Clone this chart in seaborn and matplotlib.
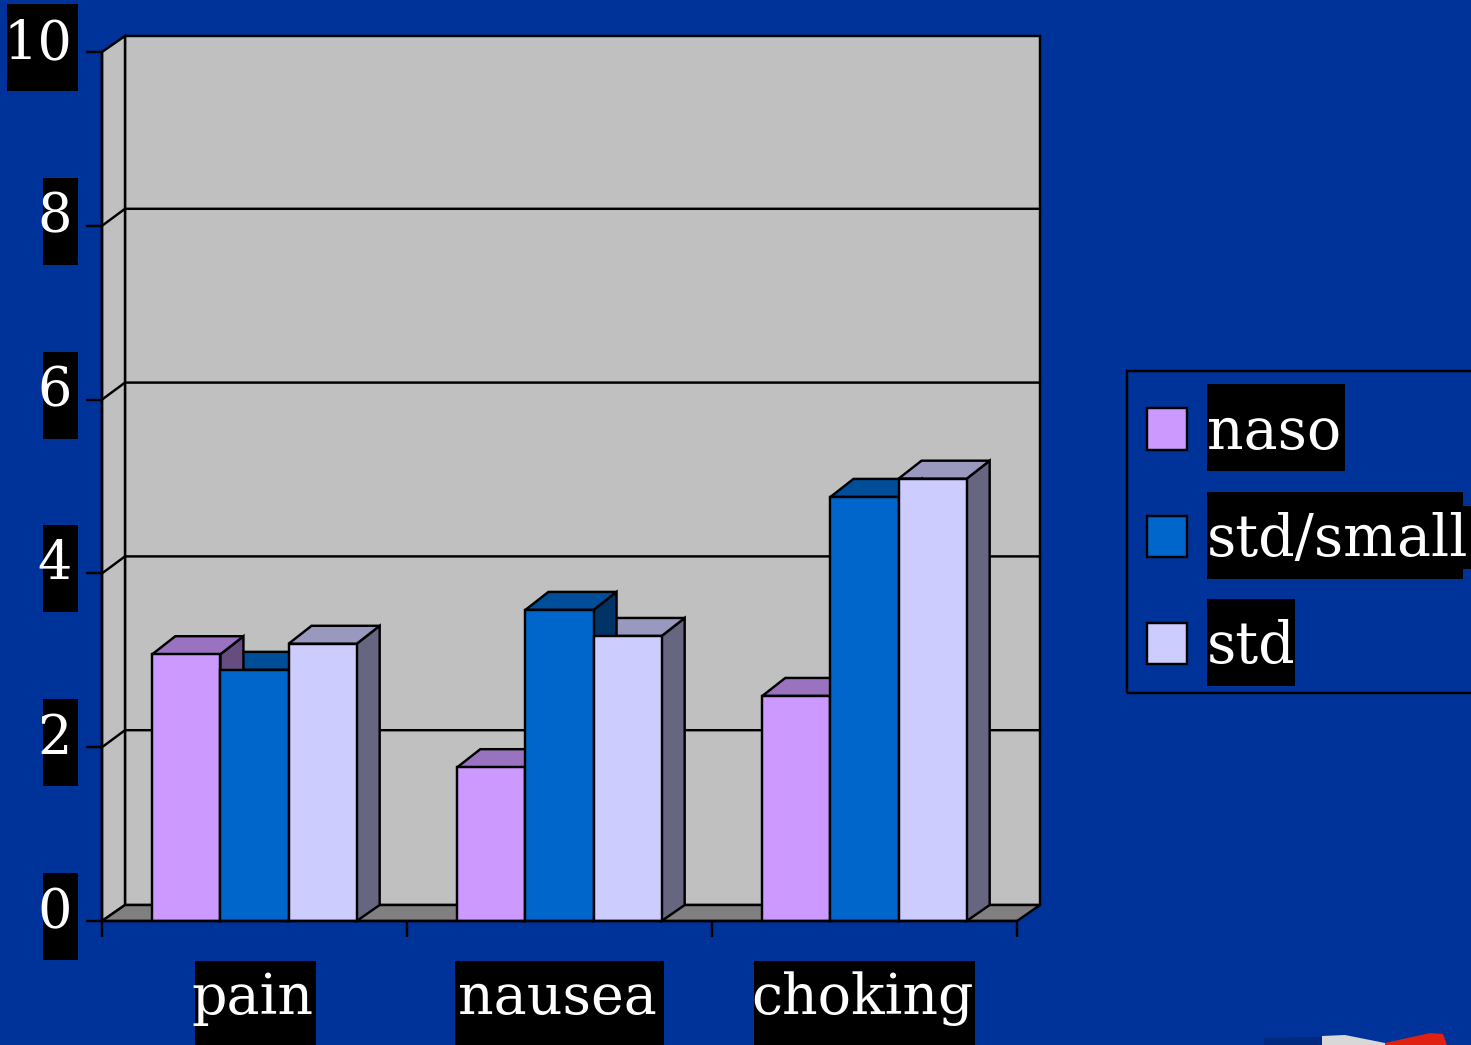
import matplotlib
matplotlib.use("Agg")
import matplotlib.pyplot as plt
import pandas as pd
import seaborn as sns
from matplotlib.patches import Polygon, Rectangle
from matplotlib.transforms import IdentityTransform, ScaledTranslation

categories = ["pain", "nausea", "choking"]
series_names = ["naso", "std/small", "std"]
naso = [3.07, 1.77, 2.59]
std_small = [2.89, 3.58, 4.88]
std = [3.19, 3.28, 5.09]
y_ticks = [0, 2, 4, 6, 8, 10]
colors = ["#CC99FF", "#0066CC", "#CCCCFF"]
BG, WALL, FLOOR = "#003399", "#C0C0C0", "#808080"
W, H, DPI = 1471, 1045, 100
DX, DY, BAR_DY = 23, 16, 18
LW = 1.75
FONT = 41

df = pd.DataFrame({
    "category": categories * 3,
    "series": [s for s in series_names for _ in categories],
    "value": naso + std_small + std,
})

sns.set_theme(style="ticks")
plt.rcParams["font.family"] = ["DejaVu Serif"]

fig = plt.figure(figsize=(W / DPI, H / DPI), dpi=DPI, facecolor=BG)
ax = fig.add_axes([102 / W, (H - 921) / H, 915 / W, 869 / H], facecolor="none")
sns.barplot(data=df, x="category", y="value", hue="series", hue_order=series_names,
            order=categories, palette=colors, width=0.67, gap=0, saturation=1,
            edgecolor="black", linewidth=LW, legend=False, ax=ax)
ax.set_xlim(-0.5, 2.5)
ax.set_ylim(0, 10)
ax.set_xlabel("")
ax.set_ylabel("")
sns.despine(ax=ax)
for side in ("left", "bottom"):
    ax.spines[side].set_linewidth(LW)
    ax.spines[side].set_color("black")
    ax.spines[side].set_zorder(6)

ident = IdentityTransform()
def to_px(x, y):
    return tuple(ax.transData.transform((x, y)))

def poly(pts, face, z):
    ax.add_patch(Polygon(pts, closed=True, facecolor=face, edgecolor="black", linewidth=LW,
                         transform=ident, clip_on=False, zorder=z, joinstyle="miter"))

def shade(c, f):
    r, g, b = matplotlib.colors.to_rgb(c)
    return (r * f, g * f, b * f)

# back wall, side wall, floor
x0, y0 = to_px(-0.5, 0)
x1, y1 = to_px(2.5, 10)
poly([(x0 + DX, y0 + DY), (x1 + DX, y0 + DY), (x1 + DX, y1 + DY), (x0 + DX, y1 + DY)], WALL, 0.5)
poly([(x0, y0), (x0 + DX, y0 + DY), (x0 + DX, y1 + DY), (x0, y1)], WALL, 0.6)
poly([(x0, y0), (x1, y0), (x1 + DX, y0 + DY), (x0 + DX, y0 + DY)], FLOOR, 0.7)
for v in y_ticks[1:-1]:
    _, yy = to_px(0, v)
    ax.plot([x0, x0 + DX, x1 + DX], [yy, yy + DY + 1, yy + DY + 1], color="black", lw=LW,
            transform=ident, clip_on=False, zorder=0.8)

# extruded top and side of every bar, right to left, then fronts on top
for container, col in zip(reversed(ax.containers), reversed(colors)):
    for bar in container:
        bx0, by0 = to_px(bar.get_x(), 0)
        bx1, by1 = to_px(bar.get_x() + bar.get_width(), bar.get_height())
        poly([(bx1, by0), (bx1 + DX, by0 + DY), (bx1 + DX, by1 + BAR_DY), (bx1, by1)], shade(col, 0.5), 3)
        poly([(bx0, by1), (bx1, by1), (bx1 + DX, by1 + BAR_DY), (bx0 + DX, by1 + BAR_DY)], shade(col, 0.75), 3)
        bar.set_zorder(4)

# ticks and labels
ax.set_xticks([-0.5, 0.5, 1.5, 2.5], labels=[])
ax.set_xticks([0, 1, 2], labels=categories, minor=True)
ax.set_yticks(y_ticks, labels=[str(v) for v in y_ticks])
ax.tick_params(axis="x", which="major", length=11.5, width=LW, color="black", direction="out")
ax.tick_params(axis="x", which="minor", length=0, pad=0, labelsize=40, labelcolor="white")
ax.tick_params(axis="y", which="major", length=11.5, width=LW, color="black", pad=0,
               labelsize=39, labelcolor="white")
for tick in ax.xaxis.get_minor_ticks():
    lab = tick.label1
    lab.set_va("baseline")
    lab.set_transform(lab.get_transform() + ScaledTranslation(-2.5 / DPI, -93 / DPI, fig.dpi_scale_trans))
for tick in ax.yaxis.get_major_ticks():
    lab = tick.label1
    lab.set_va("baseline")
    lab.set_ha("right")
    lab.set_transform(lab.get_transform() + ScaledTranslation(-14 / DPI, -7 / DPI, fig.dpi_scale_trans))

# legend
handles = [Rectangle((0, 0), 1, 1, facecolor=c, edgecolor="black", linewidth=LW) for c in colors]
fs_px = FONT * DPI / 72
leg = ax.legend(handles, series_names, loc="upper left",
                bbox_to_anchor=(1147, H - 405), bbox_transform=ident,
                frameon=False, fontsize=FONT, labelcolor="white", borderpad=0, borderaxespad=0,
                handlelength=40 / fs_px, handleheight=42 / fs_px, handletextpad=20 / fs_px,
                labelspacing=0.90)
leg.set_zorder(7)

def plate(x_a, x_b, y_top, y_bot):
    fig.add_artist(Rectangle((x_a, H - y_bot), x_b - x_a, y_bot - y_top, facecolor="black",
                             edgecolor="none", transform=ident, zorder=-1))

for xa, xb in [(195, 316), (455, 664), (754, 975)]:
    plate(xa, xb, 961, 1048)
for v in y_ticks:
    _, ty = to_px(0, v)
    base = H - ty + 7
    plate(78 - 35.5 * len(str(v)), 78, base - 55, base + 32)

fig.add_artist(Rectangle((1127, H - 693), 400, 322, facecolor="none", edgecolor="black",
                         linewidth=LW, transform=ident, zorder=-2))
for (ya, yb), xb in zip([(384, 471), (492, 579), (599, 686)], [1345, 1463, 1295]):
    plate(1207, xb, ya, yb)
plate(1463, 1471, 506, 569)

# small flag fragment at the lower right edge of the slide
for pts, c in [([(1264, 1045), (1264, 1038), (1322, 1037), (1322, 1045)], "#002A80"),
               ([(1322, 1045), (1322, 1036), (1345, 1035), (1385, 1043), (1385, 1045)], "#D8D8D8"),
               ([(1385, 1045), (1385, 1043), (1430, 1033), (1443, 1034), (1447, 1045)], "#E02010")]:
    fig.add_artist(Polygon([(x, H - y) for x, y in pts], closed=True, facecolor=c, edgecolor="none",
                           transform=ident, zorder=-1))

fig.savefig("out.png", dpi=DPI, facecolor=BG)
